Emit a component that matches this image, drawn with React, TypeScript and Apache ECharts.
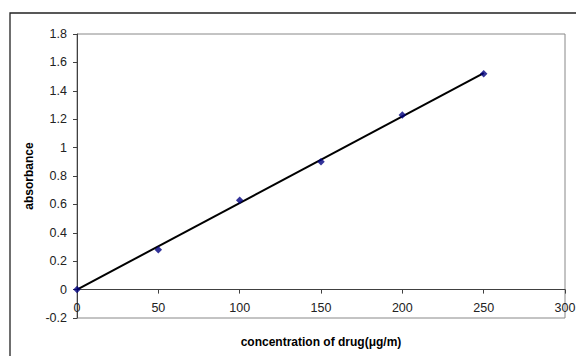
import React, { useEffect, useRef } from "react";
import * as echarts from "echarts";

const concentrations = [0, 50, 100, 150, 200, 250];
const absorbances = [0, 0.28, 0.63, 0.9, 1.23, 1.52];
const trendX = [0, 250];
const trendY = [0, 1.525];
const xTitle = "concentration of drug(μg/m)";
const yTitle = "absorbance";

export default function App() {
  const ref = useRef<HTMLDivElement>(null);
  useEffect(() => {
    if (!ref.current) return;
    const chart = echarts.init(ref.current, null, { renderer: "svg" });
    const font = "Arial, 'Liberation Sans', sans-serif";
    chart.setOption({
      animation: false,
      backgroundColor: "#ffffff",
      graphic: [
        {
          type: "rect",
          shape: { x: 10, y: 13, width: 600, height: 400 },
          style: { fill: "none", stroke: "#222", lineWidth: 1.3 },
          silent: true,
          z: 0,
        },
      ],
      grid: {
        left: 77,
        top: 34,
        width: 488,
        height: 284,
        show: true,
        borderColor: "#888888",
        borderWidth: 1,
        containLabel: false,
        outerBoundsMode: "none",
      },
      xAxis: {
        type: "value",
        min: 0,
        max: 300,
        interval: 50,
        position: "bottom",
        offset: -28.4,
        name: xTitle,
        nameLocation: "middle",
        nameGap: 46,
        nameTextStyle: {
          fontFamily: font,
          fontWeight: "bold",
          fontSize: 12,
          color: "#000",
        },
        axisLine: { show: true, onZero: false, lineStyle: { color: "#404040", width: 1 } },
        axisTick: { show: true, length: 4, lineStyle: { color: "#404040" } },
        axisLabel: { margin: 12, fontFamily: font, fontSize: 12.5, color: "#222" },
        splitLine: { show: false },
      },
      yAxis: {
        type: "value",
        min: -0.2,
        max: 1.8,
        interval: 0.2,
        name: yTitle,
        nameLocation: "middle",
        nameGap: 39,
        nameRotate: 90,
        nameTextStyle: {
          fontFamily: font,
          fontWeight: "bold",
          fontSize: 12,
          color: "#000",
        },
        axisLine: { show: true, onZero: false, lineStyle: { color: "#404040", width: 1 } },
        axisTick: { show: true, length: 4, lineStyle: { color: "#404040" } },
        axisLabel: {
          margin: 10,
          fontFamily: font,
          fontSize: 12.5,
          color: "#222",
          formatter: (v: number) => String(Math.round(v * 10) / 10),
        },
        splitLine: { show: false },
      },
      series: [
        {
          type: "line",
          data: trendX.map((x, i) => [x, trendY[i]]),
          symbol: "none",
          lineStyle: { color: "#000", width: 2 },
          z: 2,
          silent: true,
        },
        {
          type: "scatter",
          data: concentrations.map((x, i) => [x, absorbances[i]]),
          symbol: "diamond",
          symbolSize: 7.5,
          itemStyle: { color: "#000080" },
          z: 3,
        },
      ],
    });
    return () => chart.dispose();
  }, []);
  return (
    <div
      ref={ref}
      style={{ position: "fixed", left: 0, top: 0, width: 576, height: 356 }}
    />
  );
}
